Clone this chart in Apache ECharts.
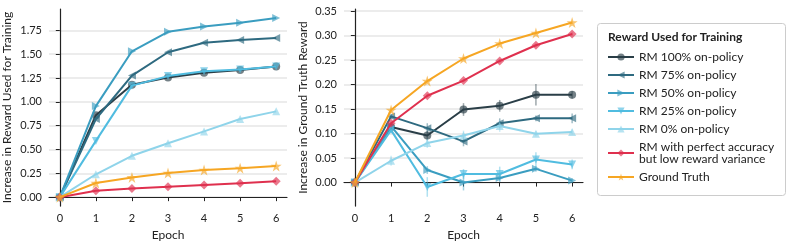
<!DOCTYPE html>
<html>
<head>
<meta charset="utf-8">
<script src="https://cdn.jsdelivr.net/npm/echarts@6/dist/echarts.min.js"></script>
<style>html,body{margin:0;padding:0;background:#fff;}#c{width:793px;height:246px;}</style>
</head>
<body>
<div id="c"></div>
<script>
const epochs = [0, 1, 2, 3, 4, 5, 6];
const seriesNames = ['RM 100% on-policy', 'RM 75% on-policy', 'RM 50% on-policy', 'RM 25% on-policy', 'RM 0% on-policy', 'RM with perfect accuracy\nbut low reward variance', 'Ground Truth'];
const legendTitle = 'Reward Used for Training';
const xAxisTitle = 'Epoch';
const leftYTitle = 'Increase in Reward Used for Training';
const rightYTitle = 'Increase in Ground Truth Reward';
const leftYTicks = [0, 0.25, 0.5, 0.75, 1.0, 1.25, 1.5, 1.75];
const rightYTicks = [0, 0.05, 0.1, 0.15, 0.2, 0.25, 0.3, 0.35];

// Left panel: increase in reward used for training
const trainRM100 = [0, 0.86, 1.18, 1.255, 1.305, 1.335, 1.37];
const trainRM75  = [0, 0.82, 1.275, 1.52, 1.62, 1.65, 1.67];
const trainRM50  = [0, 0.955, 1.53, 1.735, 1.79, 1.83, 1.88];
const trainRM25  = [0, 0.59, 1.17, 1.27, 1.32, 1.34, 1.37];
const trainRM0   = [0, 0.24, 0.434, 0.565, 0.69, 0.82, 0.90];
const trainPerfect = [0, 0.066, 0.09, 0.108, 0.128, 0.146, 0.167];
const trainGT    = [0, 0.148, 0.207, 0.253, 0.284, 0.304, 0.326];

// Right panel: increase in ground truth reward (mean and error)
const gtRM100 = [0, 0.1135, 0.096, 0.149, 0.1565, 0.179, 0.179];
const gtRM75  = [0, 0.135, 0.111, 0.084, 0.121, 0.131, 0.131];
const gtRM50  = [0, 0.115, 0.0255, 0.0, 0.0095, 0.028, 0.004];
const gtRM25  = [0, 0.107, -0.009, 0.0175, 0.0175, 0.047, 0.037];
const gtRM0   = [0, 0.0445, 0.0805, 0.096, 0.1155, 0.0995, 0.103];
const gtPerfect = [0, 0.121, 0.177, 0.208, 0.248, 0.280, 0.303];
const gtGT    = [0, 0.148, 0.207, 0.253, 0.2835, 0.305, 0.3265];

const errRM100 = [0, 0.005, 0.01, 0.013, 0.012, 0.022, 0.008];
const errRM75  = [0, 0.005, 0.01, 0.01, 0.01, 0.006, 0.01];
const errRM50  = [0, 0.005, 0.008, 0.016, 0.008, 0.006, 0.005];
const errRM25  = [0, 0.005, 0.02, 0.01, 0.015, 0.015, 0.01];
const errRM0   = [0, 0.01, 0.01, 0.01, 0.012, 0.005, 0.005];
const errPerfect = [0, 0.003, 0.003, 0.003, 0.003, 0.003, 0.003];
const errGT    = [0, 0.003, 0.003, 0.003, 0.003, 0.003, 0.003];

const colors = ['#2a3e47', '#2e6a80', '#3a9dc0', '#50bce0', '#8fd4ea', '#df304e', '#f6a623'];
const starPath = 'path://M50,0 L61.2,34.5 L97.6,34.5 L68.2,55.9 L79.4,90.5 L50,69.1 L20.6,90.5 L31.8,55.9 L2.4,34.5 L38.8,34.5 Z';
const symbols = ['circle', 'path://M0,50 L100,0 L100,100 Z', 'path://M100,50 L0,0 L0,100 Z', 'path://M0,0 L100,0 L50,100 Z', 'path://M50,0 L100,100 L0,100 Z', 'diamond', starPath];
const symbolSizes = [8, 8, 8, 8, 8, 9, 11];

const trainData = [trainRM100, trainRM75, trainRM50, trainRM25, trainRM0, trainPerfect, trainGT];
const gtData = [gtRM100, gtRM75, gtRM50, gtRM25, gtRM0, gtPerfect, gtGT];
const errData = [errRM100, errRM75, errRM50, errRM25, errRM0, errPerfect, errGT];

const FONT = 'Lato';
const axisText = {color: '#222', fontFamily: FONT, fontSize: 11};

function xAxis(gi) {
  return {
    gridIndex: gi, type: 'value', min: -0.3, max: 6.3,
    name: xAxisTitle, nameLocation: 'middle', nameGap: 19,
    nameTextStyle: {color: '#222', fontFamily: FONT, fontSize: 12},
    axisLine: {show: true, lineStyle: {color: '#222', width: 1.2}},
    axisTick: {show: true, length: 4, customValues: epochs, lineStyle: {color: '#222'}},
    axisLabel: Object.assign({customValues: epochs, margin: 7}, axisText),
    splitLine: {show: false}
  };
}
function yAxis(gi, min, max, ticks, name, gap) {
  return {
    gridIndex: gi, type: 'value', min: min, max: max,
    name: name, nameLocation: 'middle', nameGap: gap,
    nameTextStyle: {color: '#222', fontFamily: FONT, fontSize: 12},
    axisLine: {show: true, lineStyle: {color: '#222', width: 1.2}},
    axisTick: {show: true, length: 4, customValues: ticks, lineStyle: {color: '#222'}},
    axisLabel: Object.assign({customValues: ticks, margin: 7, formatter: v => v.toFixed(2)}, axisText),
    splitLine: {show: true, lineStyle: {color: '#e6e6e6', width: 1.5}}
  };
}

const series = [];
for (let i = 0; i < seriesNames.length; i++) {
  const common = {
    type: 'line', name: seriesNames[i], symbol: symbols[i], symbolSize: symbolSizes[i],
    showAllSymbol: true, z: 3 + i,
    lineStyle: {color: colors[i], width: 2},
    itemStyle: {color: colors[i], opacity: 0.65, borderWidth: 0},
    emphasis: {disabled: true}
  };
  series.push(Object.assign({}, common, {xAxisIndex: 0, yAxisIndex: 0, data: epochs.map((e, k) => [e, trainData[i][k]])}));
  series.push(Object.assign({}, common, {xAxisIndex: 1, yAxisIndex: 1, data: epochs.map((e, k) => [e, gtData[i][k]])}));
  series.push({
    type: 'custom', name: 'err' + i, xAxisIndex: 1, yAxisIndex: 1, z: 2,
    data: epochs.map((e, k) => [e, gtData[i][k], errData[i][k]]),
    renderItem: (params, api) => {
      const x = api.value(0), y = api.value(1), er = api.value(2);
      const lo = api.coord([x, y - er]), hi = api.coord([x, y + er]);
      return {type: 'line', shape: {x1: lo[0], y1: lo[1], x2: hi[0], y2: hi[1]},
        style: {stroke: colors[i], lineWidth: 1.5, opacity: 0.45}};
    }
  });
}

const chart = echarts.init(document.getElementById('c'), null, {renderer: 'canvas'});
chart.setOption({
  animation: false,
  backgroundColor: '#fff',
  color: colors,
  grid: [
    {left: 48, right: 506, top: 9, bottom: 38, containLabel: false},
    {left: 344, right: 210, top: 9, bottom: 38, containLabel: false}
  ],
  xAxis: [xAxis(0), xAxis(1)],
  yAxis: [
    yAxis(0, -0.094, 1.974, leftYTicks, leftYTitle, 36),
    yAxis(1, -0.048, 0.354, rightYTicks, rightYTitle, 35)
  ],
  legend: {
    data: seriesNames, orient: 'vertical', left: 607, top: 51, padding: 0,
    itemWidth: 26, itemHeight: 9, itemGap: 6,
    textStyle: {color: '#222', fontFamily: FONT, fontSize: 12, lineHeight: 12},
    selectedMode: false
  },
  graphic: [
    {type: 'rect', left: 597, top: 23, shape: {width: 188, height: 172, r: 3},
      style: {fill: '#fff', stroke: '#cccccc', lineWidth: 1}, z: -1, silent: true},
    {type: 'text', left: 608, top: 31, style: {text: legendTitle, fill: '#222', font: 'bold 12px Lato'}, silent: true}
  ],
  series: series
});
</script>
</body>
</html>
